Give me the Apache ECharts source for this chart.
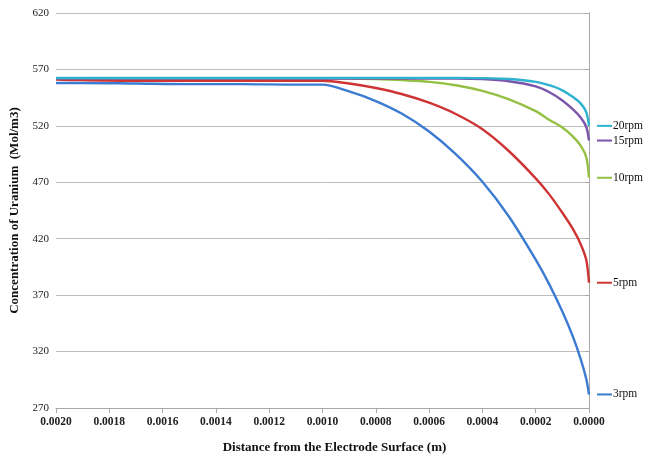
<!DOCTYPE html>
<html>
<head>
<meta charset="utf-8">
<script src="https://cdn.jsdelivr.net/npm/echarts@6/dist/echarts.min.js"></script>
<style>
  html, body { margin: 0; padding: 0; background: #fff; }
  #chart { width: 651px; height: 460px; }
</style>
</head>
<body>
<div id="chart"></div>
<script>
// Distance from the electrode surface (m), far side first
const distance = [0.0020, 0.0019, 0.0017, 0.0015, 0.0013, 0.0011, 0.0010, 0.0009, 0.0008, 0.0007,
                  0.0006, 0.0005, 0.0004, 0.0003, 0.0002, 0.00015, 0.0001, 0.00006, 0.00003, 0.00001, 0.0];

// Uranium concentration (Mol/m3) for each rotation speed
const conc3rpm  = [558, 558, 557.5, 557, 557, 556.5, 556.5, 550.5, 542, 530.5,
                   515, 495, 470.5, 439.5, 401.5, 380, 355.5, 333, 312.5, 295.5, 282];
const conc5rpm  = [561, 560.5, 560, 560, 560, 560, 560, 557.5, 553.5, 548,
                   540.5, 530.5, 517, 497.5, 473.5, 459.5, 443, 428.5, 414.5, 401, 381];
const conc10rpm = [562, 562, 562, 562, 562, 562, 562, 562, 561.5, 560.5,
                   559, 556, 551, 543.5, 533, 525.5, 518.5, 510.5, 502, 492, 474];
const conc15rpm = [562, 562, 562, 562, 562, 562, 562, 562, 562, 562,
                   562, 562, 561.5, 559.5, 555, 550, 542.5, 534.5, 527, 519, 507];
const conc20rpm = [562.5, 562.5, 562.5, 562.5, 562.5, 562.5, 562.5, 562.5, 562.5, 562.5,
                   562.5, 562.5, 562.3, 561.5, 559, 556, 551.5, 545.5, 539.5, 532, 520];

const seriesNames  = ['3rpm', '5rpm', '10rpm', '15rpm', '20rpm'];
const seriesValues = [conc3rpm, conc5rpm, conc10rpm, conc15rpm, conc20rpm];
const seriesColors = ['#3c7bd2', '#cf3434', '#94c043', '#7a55ab', '#2eb2cf'];

// Axis ticks
const xMin = 0, xMax = 0.0020, xStep = 0.0002;
const yMin = 270, yMax = 620, yStep = 50;

const serif = '"Liberation Serif", "Times New Roman", "DejaVu Serif", serif';

const chart = echarts.init(document.getElementById('chart'), null, { renderer: 'canvas' });

const series = seriesNames.map((name, k) => ({
  name: name,
  type: 'line',
  data: distance.map((d, i) => [d, seriesValues[k][i]]),
  smooth: 0.3,
  showSymbol: false,
  symbol: 'none',
  lineStyle: { color: seriesColors[k], width: 2.4 },
  itemStyle: { color: seriesColors[k] },
  // label sits to the right of the curve's end at the electrode surface
  endLabel: {
    show: true,
    align: 'left',
    distance: -8,
    formatter: '{d|}{t|' + name + '}',
    rich: {
      d: { width: 15, height: 2, backgroundColor: seriesColors[k] },
      t: { fontFamily: serif, fontSize: 11.5, color: '#111', padding: [0, 0, 0, 1] }
    }
  },
  z: 2 + k
}));

chart.setOption({
  animation: false,
  backgroundColor: '#ffffff',
  grid: { left: 56, right: 62, top: 13, bottom: 52, containLabel: false },
  xAxis: {
    type: 'value',
    inverse: true,
    min: xMin, max: xMax, interval: xStep,
    name: 'Distance from the Electrode Surface (m)',
    nameLocation: 'middle',
    nameGap: 33,
    nameTextStyle: { fontFamily: serif, fontSize: 13, fontWeight: 'bold', color: '#111', padding: [0, 0, 0, 24] },
    axisLine: { show: true, lineStyle: { color: '#a8a8a8', width: 1 } },
    axisTick: { show: true, length: 5, lineStyle: { color: '#a8a8a8' } },
    axisLabel: {
      fontFamily: serif, fontSize: 11.5, fontWeight: 'bold', color: '#222', margin: 8,
      formatter: v => v.toFixed(4)
    },
    splitLine: { show: false }
  },
  yAxis: {
    type: 'value',
    min: yMin, max: yMax, interval: yStep,
    name: 'Concentration of Uranium  (Mol/m3)',
    nameLocation: 'middle',
    nameGap: 34,
    nameTextStyle: { fontFamily: serif, fontSize: 13, fontWeight: 'bold', color: '#111' },
    axisLine: { show: true, lineStyle: { color: '#a8a8a8', width: 1 } },
    axisTick: { show: true, length: 4, lineStyle: { color: '#a8a8a8' } },
    axisLabel: { fontFamily: serif, fontSize: 11, color: '#222', margin: 7 },
    splitLine: { show: true, lineStyle: { color: '#bdbdbd', width: 1 } }
  },
  series: series
});
</script>
</body>
</html>
